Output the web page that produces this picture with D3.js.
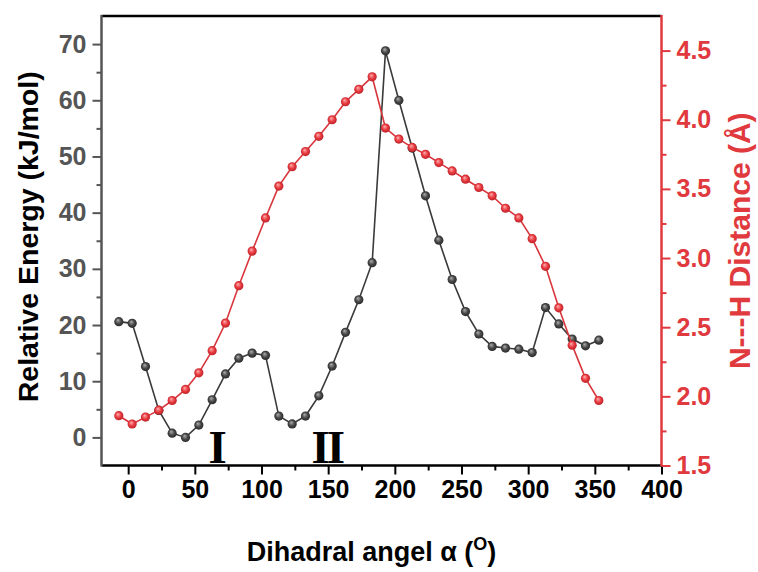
<!DOCTYPE html>
<html>
<head>
<meta charset="utf-8">
<script src="https://cdn.jsdelivr.net/npm/d3@7/dist/d3.min.js"></script>
<style>
  html, body { margin: 0; padding: 0; background: #ffffff; }
  svg { display: block; }
  text { font-family: "Liberation Sans", Arial, sans-serif; font-weight: bold; }
</style>
</head>
<body>
<svg id="chart" width="758" height="572"></svg>
<script>
// ---- data ----
const angles = [-7, 3, 13, 23, 33, 43, 53, 63, 73, 83, 93, 103, 113, 123, 133, 143, 153, 163, 173, 183,
                193, 203, 213, 223, 233, 243, 253, 263, 273, 283, 293, 303, 313, 323, 333, 343, 353];
const energy = [20.6, 20.3, 12.6, 4.8, 0.75, 0.0, 2.2, 6.7, 11.3, 14.1, 15.0, 14.6, 3.8, 2.4, 3.8, 7.4, 12.7, 18.7, 24.5, 31.1,
                68.8, 60.0, 51.5, 43.0, 35.1, 28.1, 22.4, 18.4, 16.2, 15.9, 15.7, 15.1, 23.1, 20.2, 17.5, 16.3, 17.3];
const distance = [1.86, 1.80, 1.85, 1.90, 1.97, 2.05, 2.17, 2.33, 2.53, 2.80, 3.05, 3.29, 3.52, 3.66, 3.77, 3.88, 4.00, 4.13, 4.22, 4.31,
                  3.94, 3.86, 3.80, 3.75, 3.69, 3.63, 3.57, 3.51, 3.45, 3.36, 3.29, 3.14, 2.94, 2.64, 2.37, 2.13, 1.97];
const xTicks = [0, 50, 100, 150, 200, 250, 300, 350, 400];
const xMinorTicks = [25, 75, 125, 175, 225, 275, 325, 375];
const energyTicks = [0, 10, 20, 30, 40, 50, 60, 70];
const energyMinorTicks = [5, 15, 25, 35, 45, 55, 65];
const distTicks = [1.5, 2.0, 2.5, 3.0, 3.5, 4.0, 4.5];
const distMinorTicks = [1.75, 2.25, 2.75, 3.25, 3.75, 4.25];
const regionLabels = [{text: "I", x: 66}, {text: "II", x: 149}];
const xTitle = "Dihadral angel α (";
const xTitleSup = "O";
const yTitle = "Relative Energy (kJ/mol)";
const y2Title = "N---H Distance (Å)";

// ---- layout ----
const L = 101.5, R = 661.5, T = 16, B = 465.5;
const red = "#e0393e", gray = "#555555", dark = "#3a3a3a";

const svg = d3.select("#chart");
const x = d3.scaleLinear().domain([-20, 400]).range([L, R]);
const yE = d3.scaleLinear().domain([-5, 75]).range([B, T]);
const yD = d3.scaleLinear().domain([1.5, 4.75]).range([B, T]);

// gradients for shaded balls
const defs = svg.append("defs");
function ballGrad(id, c0, c1, c2) {
  const g = defs.append("radialGradient").attr("id", id)
    .attr("cx", "50%").attr("cy", "50%").attr("r", "55%").attr("fx", "38%").attr("fy", "32%");
  g.append("stop").attr("offset", "0%").attr("stop-color", c0);
  g.append("stop").attr("offset", "55%").attr("stop-color", c1);
  g.append("stop").attr("offset", "100%").attr("stop-color", c2);
}
ballGrad("gBlack", "#b0b0b0", "#474747", "#262626");
ballGrad("gRed", "#ffb0b0", "#e8393f", "#b41f25");

// ---- axes ----
const fontTick = 25;
const ff = "'Liberation Sans', Arial, sans-serif";
// bottom axis
const xAxis = d3.axisBottom(x).tickValues(xTicks).tickSize(9).tickPadding(6).tickFormat(d3.format("d"));
const gx = svg.append("g").attr("transform", `translate(0,${B})`).call(xAxis);
gx.select(".domain").remove();
gx.selectAll(".tick line").attr("stroke", "#000").attr("stroke-width", 2);
gx.selectAll(".tick text").attr("fill", "#000").style("font-size", fontTick + "px")
  .style("font-family", ff).style("font-weight", "bold");
const gxm = svg.append("g").attr("transform", `translate(0,${B})`)
  .call(d3.axisBottom(x).tickValues(xMinorTicks).tickSize(5).tickFormat(""));
gxm.select(".domain").remove();
gxm.selectAll(".tick line").attr("stroke", "#000").attr("stroke-width", 2);

// left axis
const yAxis = d3.axisLeft(yE).tickValues(energyTicks).tickSize(9).tickPadding(6).tickFormat(d3.format("d"));
const gy = svg.append("g").attr("transform", `translate(${L},0)`).call(yAxis);
gy.select(".domain").remove();
gy.selectAll(".tick line").attr("stroke", gray).attr("stroke-width", 2);
gy.selectAll(".tick text").attr("fill", gray).style("font-size", fontTick + "px")
  .style("font-family", ff).style("font-weight", "bold");
const gym = svg.append("g").attr("transform", `translate(${L},0)`)
  .call(d3.axisLeft(yE).tickValues(energyMinorTicks).tickSize(5).tickFormat(""));
gym.select(".domain").remove();
gym.selectAll(".tick line").attr("stroke", gray).attr("stroke-width", 2);

// right axis
const y2Axis = d3.axisRight(yD).tickValues(distTicks).tickSize(9).tickPadding(6).tickFormat(d3.format(".1f"));
const gy2 = svg.append("g").attr("transform", `translate(${R},0)`).call(y2Axis);
gy2.select(".domain").remove();
gy2.selectAll(".tick line").attr("stroke", red).attr("stroke-width", 2);
gy2.selectAll(".tick text").attr("fill", red).style("font-size", fontTick + "px")
  .style("font-family", ff).style("font-weight", "bold");
const gy2m = svg.append("g").attr("transform", `translate(${R},0)`)
  .call(d3.axisRight(yD).tickValues(distMinorTicks).tickSize(5).tickFormat(""));
gy2m.select(".domain").remove();
gy2m.selectAll(".tick line").attr("stroke", red).attr("stroke-width", 2);

// frame lines
svg.append("line").attr("x1", L).attr("x2", R).attr("y1", T).attr("y2", T).attr("stroke", "#000").attr("stroke-width", 2.5);
svg.append("line").attr("x1", L).attr("x2", R).attr("y1", B).attr("y2", B).attr("stroke", "#000").attr("stroke-width", 2.5);
svg.append("line").attr("x1", L).attr("x2", L).attr("y1", T - 1).attr("y2", B + 1).attr("stroke", gray).attr("stroke-width", 2.5);
svg.append("line").attr("x1", R).attr("x2", R).attr("y1", T - 1).attr("y2", B + 1).attr("stroke", red).attr("stroke-width", 2.5);

// ---- series ----
const rows = angles.map((a, i) => ({a, e: energy[i], d: distance[i]}));
const lineE = d3.line().x(d => x(d.a)).y(d => yE(d.e));
const lineD = d3.line().x(d => x(d.a)).y(d => yD(d.d));

svg.append("path").datum(rows).attr("d", lineE).attr("fill", "none").attr("stroke", dark).attr("stroke-width", 1.6);
svg.selectAll("circle.e").data(rows).join("circle").attr("class", "e")
  .attr("cx", d => x(d.a)).attr("cy", d => yE(d.e)).attr("r", 4.6).attr("fill", "url(#gBlack)");

svg.append("path").datum(rows).attr("d", lineD).attr("fill", "none").attr("stroke", "#d8363c").attr("stroke-width", 1.6);
svg.selectAll("circle.d").data(rows).join("circle").attr("class", "d")
  .attr("cx", d => x(d.a)).attr("cy", d => yD(d.d)).attr("r", 4.6).attr("fill", "url(#gRed)");

// region labels I / II
svg.selectAll("text.region").data(regionLabels).join("text").attr("class", "region")
  .attr("x", d => x(d.x)).attr("y", 463).attr("text-anchor", "middle")
  .style("font-family", "'Liberation Serif', 'Times New Roman', serif").style("font-weight", "bold")
  .style("font-size", "47px").style("letter-spacing", "-3px").attr("fill", "#000")
  .text(d => d.text);

// ---- titles ----
const xt = svg.append("text").attr("x", (L + R) / 2 - 10).attr("y", 561).attr("text-anchor", "middle")
  .style("font-size", "27px").attr("fill", "#000");
xt.append("tspan").text(xTitle);
xt.append("tspan").attr("dy", -11).style("font-size", "18px").text(xTitleSup);
xt.append("tspan").attr("dy", 11).text(")");

svg.append("text").attr("transform", `translate(38,${(T + B) / 2 - 4}) rotate(-90)`).attr("text-anchor", "middle")
  .style("font-size", "28.5px").attr("fill", "#000").text(yTitle);

svg.append("text").attr("transform", `translate(750,${(T + B) / 2}) rotate(-90)`).attr("text-anchor", "middle")
  .style("font-size", "30px").attr("fill", red).text(y2Title);
</script>
</body>
</html>
